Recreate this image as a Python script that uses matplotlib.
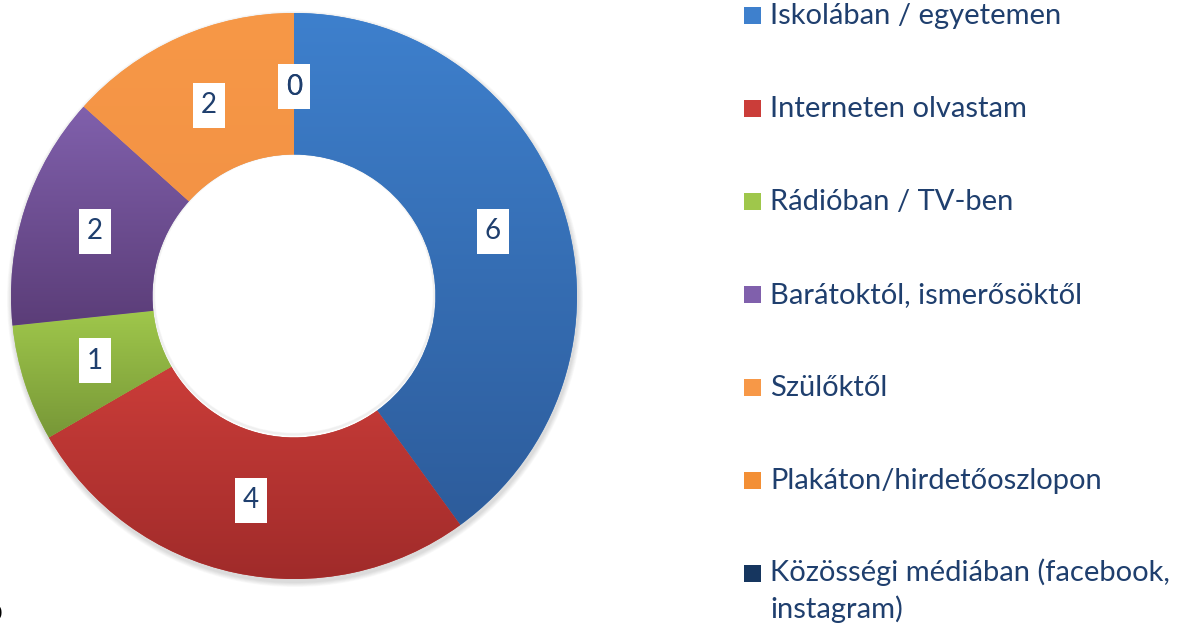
import matplotlib.pyplot as plt
import numpy as np
from matplotlib.colors import to_rgb
from matplotlib.patches import Rectangle, Circle

categories = [
    "Iskolában / egyetemen",
    "Interneten olvastam",
    "Rádióban / TV-ben",
    "Barátoktól, ismerősöktől",
    "Szülőktől",
    "Plakáton/hirdetőoszlopon",
    "Közösségi médiában (facebook,\ninstagram)",
]
values = [6, 4, 1, 2, 2, 0, 0]

# light (top) / dark (bottom) tone of each slice
light = ["#3E80CD", "#CB3D39", "#9FC74B", "#8060AC", "#F79847", "#F38F35", "#2A5A94"]
dark = ["#2D5C9B", "#A02B2A", "#779737", "#5B3D78", "#F39345", "#E07A22", "#16365F"]

TEXT = "#1F3F6E"
FONT = ["Lato", "DejaVu Sans"]

W, H = 1179, 628
cx, cy = 294, H - 296
R = 283
ring = 0.5


def main() -> None:
    fig = plt.figure(figsize=(W / 100, H / 100), dpi=100)
    ax = fig.add_axes([0, 0, 1, 1])

    # soft shadow under the ring
    for k in range(6):
        ax.add_patch(Circle((cx + 1, cy - 3), R + 1 + k * 0.8, color="black",
                            alpha=0.025, lw=0, zorder=0))
    # hole stays white, with a faint shade at its top edge
    ax.add_patch(Circle((cx, cy), R * (1 - ring), color="white", lw=0, zorder=1))
    for k in range(4):
        ax.add_patch(Circle((cx, cy + 2), R * (1 - ring) - k * 0.7, fill=False,
                            ec="black", lw=1, alpha=0.03, zorder=1.5))

    wedges, _ = ax.pie(values, radius=R, center=(cx, cy), startangle=90,
                       counterclock=False, colors=light,
                       wedgeprops=dict(width=R * ring, linewidth=0))

    grad = np.linspace(0, 1, 256).reshape(-1, 1)
    for w, c0, c1 in zip(wedges, light, dark):
        if w.theta2 - w.theta1 <= 0:
            continue
        bb = w.get_path().get_extents()
        a = np.array(to_rgb(c0))
        b = np.array(to_rgb(c1))
        img = a[None, None, :] * (1 - grad[..., None]) + b[None, None, :] * grad[..., None]
        im = ax.imshow(img, extent=(bb.x0, bb.x1, bb.y0, bb.y1), origin="upper",
                       aspect="auto", zorder=2, interpolation="bilinear")
        im.set_clip_path(w)
        w.set_zorder(2)

    total = sum(values)
    acc = 0
    for v in values:
        mid = (acc + v / 2) / total * 2 * np.pi
        acc += v
        r = R * (1 - ring / 2) * 0.985
        x = cx + r * np.sin(mid)
        y = cy + r * np.cos(mid)
        ax.add_patch(Rectangle((x - 16, y - 22.5), 32, 45, fc="white", ec="none",
                               zorder=4))
        ax.text(x, y, str(v), ha="center", va="center", fontsize=20,
                color=TEXT, family=FONT, zorder=5)

    # legend
    y0 = H - 16
    step = 93
    for i, (lab, col) in enumerate(zip(categories, light)):
        y = y0 - i * step
        ax.add_patch(Rectangle((744, y - 8), 17, 17, color=dark[i] if i == 6 else col,
                               lw=0, zorder=4))
        if "\n" in lab:
            ax.text(770, y + 16, lab, ha="left", va="top", fontsize=21,
                    color=TEXT, family=FONT, linespacing=1.42)
        else:
            ax.text(770, y, lab, ha="left", va="center", fontsize=21,
                    color=TEXT, family=FONT)

    ax.text(-4, H - 614, "0", ha="center", va="center", fontsize=15,
            fontweight="bold", color="black", family=FONT)

    ax.set_xlim(0, W)
    ax.set_ylim(0, H)
    ax.set_aspect("equal")
    ax.axis("off")
    fig.savefig("out.png", dpi=100)


if __name__ == "__main__":
    main()
